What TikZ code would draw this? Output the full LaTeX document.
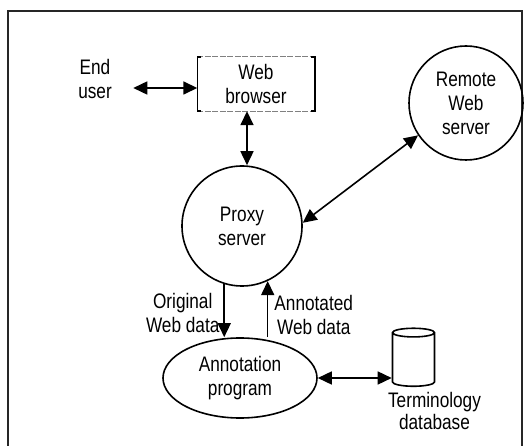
\documentclass[tikz,border=0pt]{standalone}
\usepackage{fontspec}
\setmainfont{Liberation Sans}[FakeStretch=0.82]
\usetikzlibrary{shapes.geometric,arrows.meta,positioning}

\begin{document}
\begin{tikzpicture}[x=1pt, y=1pt, node distance=142pt,
  font=\fontsize{21pt}{24pt}\selectfont,
  arr/.style={{Triangle[length=14pt,width=13pt]}-{Triangle[length=14pt,width=13pt]}, line width=1.6pt},
  oneway/.style={-{Triangle[length=14pt,width=13pt]}, line width=1.6pt}]
\useasboundingbox (0,0) rectangle (525,-446);
% frame round the figure, its bottom is cut off
\draw[line width=1.5pt, black!85] (8,-446) -- (8,-11) -- (522,-11) -- (522,-446);

\node (browser) [rectangle, minimum width=117pt, minimum height=54pt, align=center] at (256,-84) {Web\\browser};
\node (enduser) [left of=browser, xshift=-19pt, yshift=5pt, align=center] {End\\user};
\node (proxy) [circle, draw, line width=1.6pt, minimum size=120pt, align=center, below of=browser, xshift=-14pt] {Proxy\\server};
\node (remote) [circle, draw, line width=1.6pt, minimum size=114pt, align=center, right of=browser, xshift=68pt, yshift=-19pt] {Remote\\Web\\server};
\node (annot) [ellipse, draw, line width=1.6pt, minimum width=154pt, minimum height=80pt, inner sep=2pt, align=center, below of=proxy, xshift=-2pt, yshift=-10pt] {Annotation\\program};
\node (db) [cylinder, shape border rotate=90, aspect=1.3, draw, line width=1.6pt, minimum width=42pt, minimum height=58pt, right of=annot, xshift=31.5pt, yshift=17pt] {};
\node (dblabel) [below=2pt of db, xshift=21pt, align=center, font=\fontsize{21pt}{22pt}\selectfont] {Terminology\\database};

% browser: grey dashed top and bottom, black brackets at the sides
\draw[gray, line width=0.8pt, dash pattern=on 6pt off 1.5pt] (browser.north west) -- (browser.north east);
\draw[gray, line width=0.8pt, dash pattern=on 6pt off 1.5pt] (browser.south west) -- (browser.south east);
\draw[line width=1.6pt] ([xshift=4pt]browser.north west) -- (browser.north west) -- (browser.south west) -- ++(4pt,0);
\draw[line width=1.6pt] ([xshift=-4pt]browser.north east) -- (browser.north east) -- (browser.south east) -- ++(-4pt,0);

\draw[arr] ([xshift=18pt,yshift=-9pt]enduser.east) -- ([yshift=-4pt]browser.west);
\draw[arr] ([xshift=-9pt]browser.south) -- ([xshift=-9pt]browser.south |- proxy.north);
\draw[arr] (proxy.3) -- (remote.214);
\draw[oneway] (proxy.-107) -- (proxy.-107 |- annot.north) node[left, pos=0.55, align=center, inner sep=4pt] {Original\\Web data};
\draw[oneway] (annot.north -| proxy.-65) -- (proxy.-65) node[right, pos=0.4, align=center, inner sep=6pt] {Annotated\\Web data};
\draw[arr] (annot.east) -- (annot.east -| db.west);

\end{tikzpicture}
\end{document}
